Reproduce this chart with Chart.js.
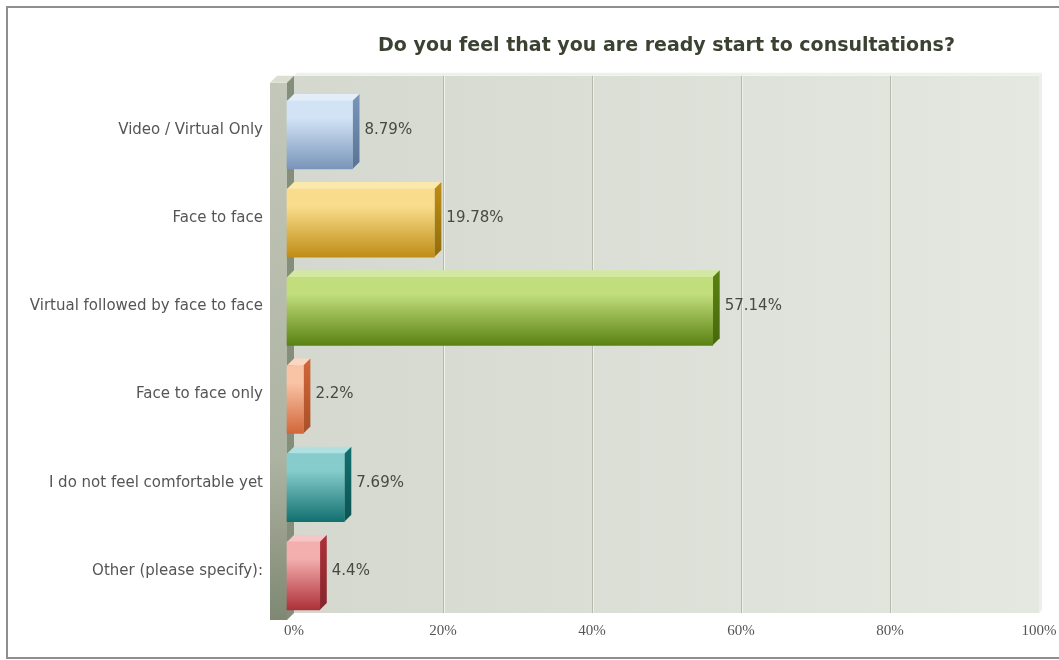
<!DOCTYPE html>
<html>
<head>
<meta charset="utf-8">
<title>Consultations survey</title>
<script src="https://cdn.jsdelivr.net/npm/chart.js@4/dist/chart.umd.min.js"></script>
<style>
    body { margin: 0; background: #fff; overflow: hidden; }
    #frame {
        position: absolute; left: 6px; top: 6px;
        width: 1100px; height: 649px;
        border: 2px solid #8e8e8e; border-right: none;
    }
    #chart { position: absolute; left: 0; top: 0; }
</style>
</head>
<body>
<div id="frame"></div>
<canvas id="chart" width="1059" height="660"></canvas>
<script>
const categories = [
    'Video / Virtual Only',
    'Face to face',
    'Virtual followed by face to face',
    'Face to face only',
    'I do not feel comfortable yet',
    'Other (please specify):'
];
const percentages = [8.79, 19.78, 57.14, 2.2, 7.69, 4.4];
const tickValues = [0, 20, 40, 60, 80, 100];

// face colours per bar: light top, dark bottom, right side, top cap
const lightColors = ['#d2e3f6', '#f9dd8c', '#c1dd7c', '#f9c4a6', '#86cccc', '#f3aeae'];
const darkColors = ['#7995b9', '#bf8d16', '#5a8212', '#d2663a', '#12706f', '#ae3039'];
const sideColors = ['#5b7699', '#94700e', '#4a6b0d', '#ac522a', '#0d5656', '#88262d'];
const capColors = ['#e4eef9', '#fbe8ad', '#d3e8a2', '#fbd6c2', '#b0e0df', '#f6c6c6'];

const DEPTH = 7;      // 3d offset of the front plane
const BAR_H = 68;

function barGradient(context) {
    const chart = context.chart;
    const i = context.dataIndex;
    if (!chart.chartArea) return lightColors[i];
    const y = chart.scales.y.getPixelForValue(i);
    const g = chart.ctx.createLinearGradient(0, y - BAR_H / 2, 0, y + BAR_H / 2);
    g.addColorStop(0, lightColors[i]);
    g.addColorStop(0.25, lightColors[i]);
    g.addColorStop(1, darkColors[i]);
    return g;
}

function poly(ctx, pts, fill) {
    ctx.beginPath();
    ctx.moveTo(pts[0][0], pts[0][1]);
    for (let k = 1; k < pts.length; k++) ctx.lineTo(pts[k][0], pts[k][1]);
    ctx.closePath();
    ctx.fillStyle = fill;
    ctx.fill();
}

// back wall, left wall and grid lines
const wallPlugin = {
    id: 'wall',
    beforeDraw(chart) {
        const ctx = chart.ctx;
        const a = chart.chartArea;
        const wallTop = a.top - 8;
        const x = chart.scales.x;

        ctx.save();
        const wg = ctx.createLinearGradient(a.left, 0, a.right, 0);
        wg.addColorStop(0, '#d4d8ce');
        wg.addColorStop(1, '#e5e8e1');
        ctx.fillStyle = wg;
        ctx.fillRect(a.left, wallTop, a.right - a.left, a.bottom - wallTop);

        // top and right edges of the wall
        poly(ctx, [[a.left, wallTop], [a.right, wallTop], [a.right + 3, wallTop - 3], [a.left + 3, wallTop - 3]], '#eef0eb');
        poly(ctx, [[a.right, wallTop], [a.right + 3, wallTop - 3], [a.right + 3, a.bottom - 3], [a.right, a.bottom]], '#edefea');

        // grid lines
        tickValues.forEach(v => {
            if (v === 0 || v === 100) return;
            const px = Math.round(x.getPixelForValue(v)) + 0.5;
            ctx.strokeStyle = '#b4baac';
            ctx.lineWidth = 1;
            ctx.beginPath();
            ctx.moveTo(px, wallTop);
            ctx.lineTo(px, a.bottom);
            ctx.stroke();
            ctx.strokeStyle = '#eef0ea';
            ctx.beginPath();
            ctx.moveTo(px + 1, wallTop);
            ctx.lineTo(px + 1, a.bottom);
            ctx.stroke();
        });

        // left wall slab
        const fx = a.left - DEPTH;
        const slabW = 17;
        const lg = ctx.createLinearGradient(0, wallTop + DEPTH, 0, a.bottom + DEPTH);
        lg.addColorStop(0, '#c3c8ba');
        lg.addColorStop(0.7, '#adb3a2');
        lg.addColorStop(1, '#7e8872');
        ctx.fillStyle = lg;
        ctx.fillRect(fx - slabW, wallTop + DEPTH, slabW, a.bottom - wallTop);
        poly(ctx, [[fx - slabW, wallTop + DEPTH], [fx, wallTop + DEPTH], [a.left, wallTop], [a.left - slabW, wallTop]], '#dadfd2');
        poly(ctx, [[fx, wallTop + DEPTH], [a.left, wallTop], [a.left, a.bottom], [fx, a.bottom + DEPTH]], '#858d7b');
        ctx.restore();
    }
};

// side and top faces of the bars, front faces shifted forward, value labels
const bar3dPlugin = {
    id: 'bar3d',
    beforeDatasetsDraw(chart) {
        const ctx = chart.ctx;
        const meta = chart.getDatasetMeta(0);
        ctx.save();
        meta.data.forEach((bar, i) => {
            const p = bar.getProps(['x', 'y', 'base', 'height'], true);
            const top = p.y - p.height / 2;
            const bottom = p.y + p.height / 2;
            poly(ctx, [[p.base - DEPTH, top + DEPTH], [p.x - DEPTH, top + DEPTH], [p.x, top], [p.base, top]], capColors[i]);
            const sg = ctx.createLinearGradient(0, top, 0, bottom);
            sg.addColorStop(0, darkColors[i]);
            sg.addColorStop(1, sideColors[i]);
            poly(ctx, [[p.x - DEPTH, top + DEPTH], [p.x, top], [p.x, bottom], [p.x - DEPTH, bottom + DEPTH]], sg);
        });
        ctx.restore();
        ctx.save();
        ctx.translate(-DEPTH, DEPTH);
    },
    afterDatasetsDraw(chart) {
        const ctx = chart.ctx;
        ctx.restore();
        const meta = chart.getDatasetMeta(0);
        ctx.save();
        ctx.font = '15px "DejaVu Sans"';
        ctx.fillStyle = '#474a44';
        ctx.textAlign = 'left';
        ctx.textBaseline = 'middle';
        meta.data.forEach((bar, i) => {
            const p = bar.getProps(['x', 'y'], true);
            ctx.fillText(percentages[i] + '%', p.x + 5, p.y + 2);
        });
        ctx.restore();
    }
};

new Chart(document.getElementById('chart'), {
    type: 'bar',
    data: {
        labels: categories,
        datasets: [{
            data: percentages,
            backgroundColor: barGradient,
            borderWidth: 0,
            barThickness: BAR_H,
            clip: false
        }]
    },
    options: {
        indexAxis: 'y',
        responsive: false,
        animation: false,
        layout: { padding: { left: 0, right: 20, top: 0, bottom: 0 } },
        plugins: {
            legend: { display: false },
            tooltip: { enabled: false },
            title: {
                display: true,
                fullSize: false,
                text: 'Do you feel that you are ready start to consultations?',
                color: '#3b4232',
                font: { family: 'DejaVu Sans', size: 19, weight: 'bold', lineHeight: 1.2 },
                padding: { top: 35, bottom: 26 }
            }
        },
        scales: {
            x: {
                min: 0,
                max: 100,
                afterBuildTicks(scale) {
                    scale.ticks = tickValues.map(v => ({ value: v }));
                },
                afterFit(scale) {
                    scale.height = 47;
                    scale.paddingLeft = 0;
                    scale.paddingRight = 0;
                },
                grid: { display: false, drawTicks: false },
                border: { display: false },
                ticks: {
                    callback: v => v + '%',
                    color: '#555',
                    padding: 9,
                    maxRotation: 0,
                    font: { family: 'Liberation Serif', size: 15 }
                }
            },
            y: {
                afterFit(scale) { scale.width = 294; },
                grid: { display: false, drawTicks: false },
                border: { display: false },
                ticks: {
                    color: '#555',
                    padding: 31,
                    labelOffset: 2,
                    font: { family: 'DejaVu Sans', size: 15 }
                }
            }
        }
    },
    plugins: [wallPlugin, bar3dPlugin]
});
</script>
</body>
</html>
